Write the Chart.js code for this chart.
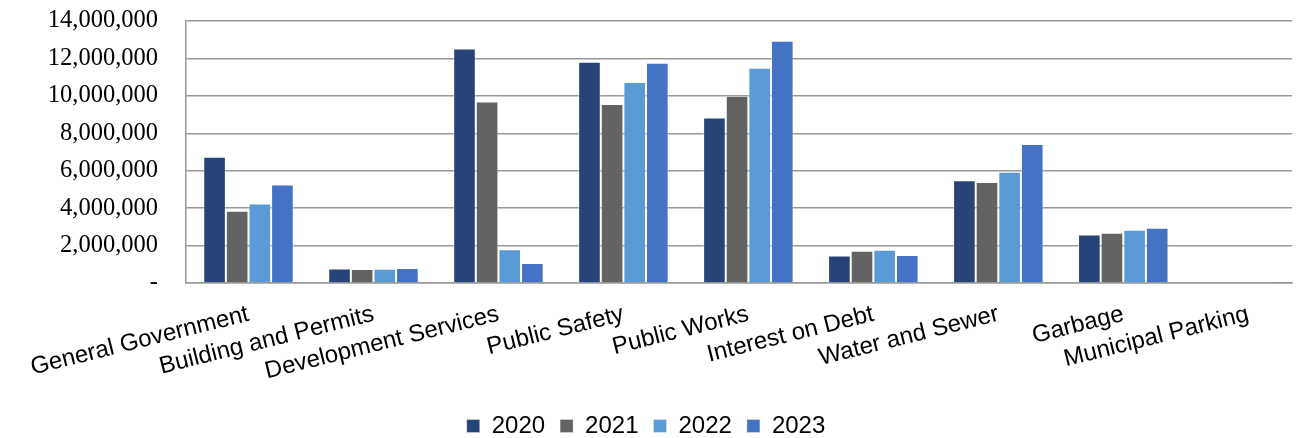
<!DOCTYPE html>
<html>
<head>
<meta charset="utf-8">
<script src="https://cdn.jsdelivr.net/npm/chart.js@4/dist/chart.umd.min.js"></script>
<style>
  html, body { margin: 0; padding: 0; background: #fff; }
  #wrap { width: 1304px; height: 438px; }
</style>
</head>
<body>
<div id="wrap"><canvas id="c" width="1304" height="438"></canvas></div>
<script>
const categories = ['General Government', 'Building and Permits', 'Development Services', 'Public Safety', 'Public Works', 'Interest on Debt', 'Water and Sewer', 'Garbage', 'Municipal Parking'];
const seriesNames = ['2020', '2021', '2022', '2023'];
const values2020 = [6740000, 780000, 12530000, 11820000, 8840000, 1470000, 5490000, 2590000, 0];
const values2021 = [3860000, 750000, 9700000, 9560000, 10000000, 1720000, 5400000, 2680000, 0];
const values2022 = [4250000, 760000, 1800000, 10740000, 11500000, 1780000, 5940000, 2840000, 0];
const values2023 = [5260000, 800000, 1070000, 11770000, 12940000, 1490000, 7430000, 2950000, 60000];
const yTicks = [0, 2000000, 4000000, 6000000, 8000000, 10000000, 12000000, 14000000];

const colors = ['#264478', '#636363', '#5B9BD5', '#4472C4'];
const allValues = [values2020, values2021, values2022, values2023];

const datasets = seriesNames.map((name, i) => ({
  label: name,
  data: allValues[i],
  backgroundColor: colors[i],
  borderColor: 'rgba(255,255,255,0.45)',
  borderWidth: { top: 1, left: 1, right: 1, bottom: 0 },
  categoryPercentage: 0.724,
  barPercentage: 1.0
}));

new Chart(document.getElementById('c'), {
  type: 'bar',
  data: { labels: categories, datasets },
  options: {
    responsive: false,
    animation: false,
    devicePixelRatio: 1,
    layout: { padding: { top: 21, right: 12, left: 0, bottom: -10 } },
    plugins: {
      tooltip: { enabled: false },
      legend: {
        position: 'bottom',
        labels: {
          boxWidth: 13,
          boxHeight: 13,
          padding: 15,
          color: '#000',
          font: { family: 'Liberation Sans', size: 24 }
        }
      }
    },
    scales: {
      x: {
        grid: { display: false, drawTicks: false },
        border: { display: true, color: '#999', width: 1.5 },
        afterBuildTicks: (s) => { s._valueRange = categories.length - 0.15; },
        afterFit: (s) => { s.height = 116; },
        ticks: {
          autoSkip: false,
          minRotation: 14,
          maxRotation: 14,
          padding: 17,
          color: '#000',
          font: { family: 'Liberation Sans', size: 24 }
        }
      },
      y: {
        min: 0,
        max: 14000000,
        afterBuildTicks: (s) => { s.ticks = yTicks.map(v => ({ value: v })); },
        afterFit: (s) => { s.width = 186; },
        grid: { color: '#999', lineWidth: 1.5, drawTicks: true, tickLength: 24, tickColor: 'rgba(0,0,0,0)' },
        border: { display: true, color: '#999', width: 1.5 },
        ticks: {
          padding: 4,
          color: '#000',
          font: { family: 'Liberation Serif', size: 24.5 },
          callback: (v) => v === 0 ? '-' : Number(v).toLocaleString('en-US')
        }
      }
    }
  }
});
</script>
</body>
</html>
